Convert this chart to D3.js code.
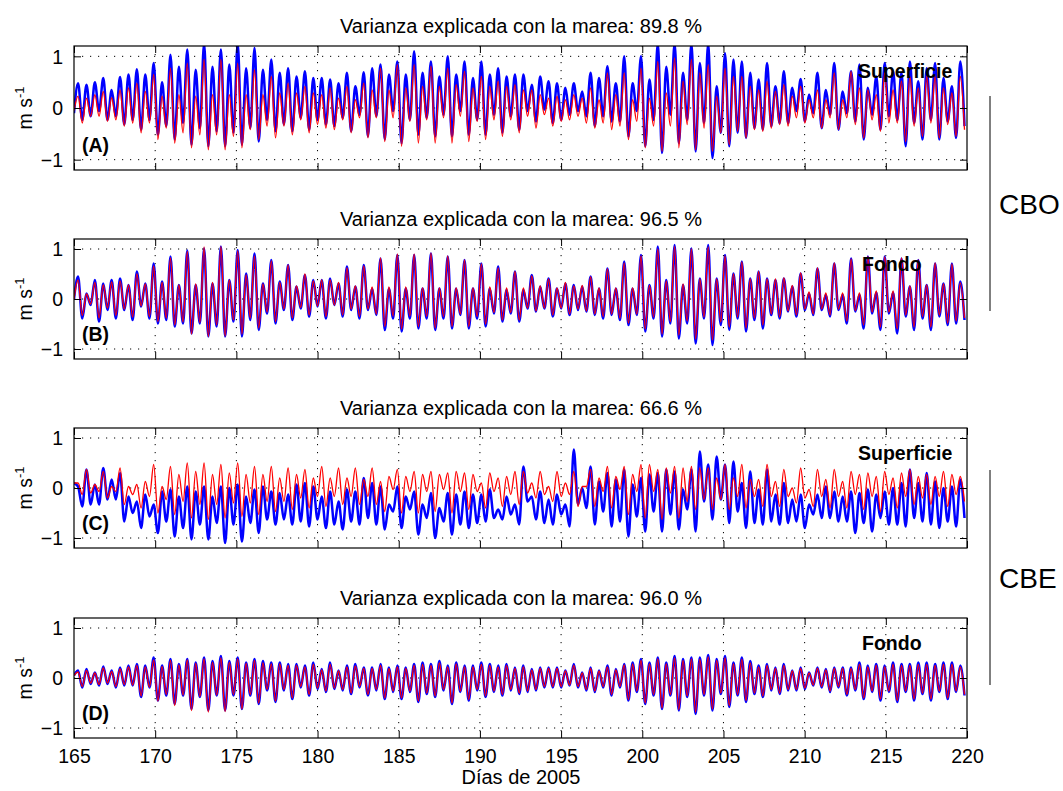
<!DOCTYPE html>
<html><head><meta charset="utf-8">
<script src="https://cdn.jsdelivr.net/npm/d3@7"></script>
<style>body{margin:0;background:#fff} text{font-family:"Liberation Sans",Arial,Helvetica,sans-serif;fill:#000}</style>
</head><body><svg id="c" width="1063" height="791"></svg>
<script>
// ---------------- DATA ----------------
const xTicks = [165,170,175,180,185,190,195,200,205,210,215,220];
const yTicks = [-1,0,1];
const panelTitles = ["Varianza explicada con la marea: 89.8 %","Varianza explicada con la marea: 96.5 %","Varianza explicada con la marea: 66.6 %","Varianza explicada con la marea: 96.0 %"];
const panelTags = ["(A)","(B)","(C)","(D)"];
const panelLayers = ["Superficie","Fondo","Superficie","Fondo"];
const groups = ["CBO","CBE"];
// time grid of the extremes (days of 2005): first crest and semidiurnal period
const firstCrestDay = 165.25;
const tidalPeriod = 0.5175;
// starting value at day 165 for each series [blue, red] per panel
const startBlue = [-0.1, 0.0, 0.1, 0.05];
const startRed = [-0.05, 0.0, 0.1, 0.05];

// Panel A (CBO superficie) - observed (blue) and tidal (red): crest and trough values
const aBluePk = [0.48,0.45,0.5,0.58,0.35,0.6,0.65,0.75,0.65,0.87,0.5,1.03,0.8,1.13,0.74,1.25,0.8,1.13,0.84,1.25,0.77,1.16,0.74,0.94,0.68,0.77,0.61,0.71,0.58,0.58,0.55,0.48,0.68,0.42,0.69,0.77,
 0.84,0.65,0.9,0.65,1.1,0.68,0.9,0.61,1.0,0.65,0.9,0.58,0.9,0.65,0.77,0.61,0.65,0.65,0.45,0.61,0.52,0.48,0.39,0.48,0.32,0.68,0.58,0.81,0.48,1.0,0.48,1.0,0.55,1.25,0.8,1.25,
 0.68,1.25,0.87,1.25,0.42,1.06,0.94,0.9,0.68,0.55,0.87,0.42,0.71,0.39,0.56,0.26,0.68,0.35,0.87,0.32,0.71,0.84,0.39,0.61,0.87,0.71,0.68,0.9,0.52,0.77,0.87,0.58,0.42,0.9];
const aBlueTr = [-0.23,-0.16,-0.06,-0.23,-0.16,-0.32,-0.23,-0.42,-0.23,-0.52,-0.35,-0.61,-0.29,-0.71,-0.39,-0.74,-0.45,-0.74,-0.48,-0.71,-0.39,-0.65,-0.23,-0.45,-0.32,-0.45,-0.19,-0.42,-0.23,-0.32,-0.35,-0.19,-0.45,-0.13,-0.55,-0.16,
 -0.61,-0.06,-0.68,-0.23,-0.52,-0.19,-0.55,-0.13,-0.55,-0.06,-0.52,-0.23,-0.52,-0.13,-0.48,-0.16,-0.42,-0.06,-0.26,-0.03,-0.29,-0.23,-0.13,-0.06,-0.16,-0.35,-0.16,-0.26,-0.26,-0.55,-0.06,-0.74,-0.23,-0.87,-0.13,-0.68,
 -0.23,-0.84,-0.29,-0.97,-0.48,-0.74,-0.48,-0.58,-0.39,-0.42,-0.35,-0.29,-0.29,-0.06,-0.26,-0.1,-0.39,-0.13,-0.42,-0.1,-0.26,-0.61,-0.13,-0.42,-0.16,-0.23,-0.74,-0.29,-0.61,-0.23,-0.61,-0.26,-0.58,-0.35];
const aRedPk = [0.23,0.19,0.26,0.32,0.2,0.35,0.39,0.48,0.32,0.65,0.23,0.77,0.26,0.87,0.23,0.94,0.26,0.94,0.26,0.87,0.26,0.74,0.26,0.61,0.29,0.48,0.29,0.42,0.29,0.26,0.39,0.19,0.42,0.16,0.48,0.35,
 0.77,0.35,0.84,0.39,0.84,0.42,0.81,0.42,0.77,0.45,0.71,0.39,0.61,0.42,0.52,0.42,0.45,0.35,0.35,0.26,0.19,0.23,0.16,0.26,0.19,0.39,0.16,0.68,0.26,0.68,0.16,0.77,0.19,0.9,0.29,0.97,
 0.52,0.94,0.68,0.84,0.23,0.77,0.61,0.61,0.42,0.35,0.52,0.32,0.45,0.23,0.42,0.16,0.35,0.16,0.68,0.16,0.71,0.39,0.35,0.26,0.68,0.35,0.52,0.61,0.39,0.61,0.61,0.39,0.29,0.61];
const aRedTr = [-0.29,-0.16,-0.16,-0.26,-0.23,-0.35,-0.29,-0.48,-0.29,-0.61,-0.39,-0.68,-0.48,-0.77,-0.52,-0.81,-0.52,-0.81,-0.55,-0.77,-0.42,-0.61,-0.35,-0.58,-0.35,-0.52,-0.23,-0.48,-0.32,-0.39,-0.42,-0.23,-0.48,-0.19,-0.58,-0.19,
 -0.65,-0.19,-0.74,-0.26,-0.68,-0.23,-0.68,-0.19,-0.68,-0.16,-0.65,-0.26,-0.61,-0.23,-0.55,-0.23,-0.48,-0.16,-0.39,-0.13,-0.35,-0.26,-0.23,-0.16,-0.29,-0.39,-0.29,-0.42,-0.35,-0.61,-0.26,-0.77,-0.35,-0.84,-0.35,-0.77,
 -0.32,-0.81,-0.39,-0.84,-0.48,-0.71,-0.45,-0.58,-0.42,-0.45,-0.39,-0.32,-0.35,-0.19,-0.29,-0.19,-0.39,-0.19,-0.42,-0.19,-0.32,-0.58,-0.23,-0.45,-0.29,-0.29,-0.65,-0.35,-0.55,-0.29,-0.58,-0.32,-0.55,-0.42];

// Panel B (CBO fondo)
const bBluePk = [0.45,0.11,0.38,0.31,0.38,0.41,0.28,0.55,0.31,0.71,0.35,0.85,0.28,0.97,0.28,1.01,0.31,1.05,0.38,0.98,0.51,0.91,0.31,0.78,0.35,0.68,0.25,0.48,0.38,0.38,0.41,0.31,0.65,0.25,0.68,0.21,
 0.81,0.21,0.88,0.21,0.88,0.21,0.91,0.21,0.85,0.21,0.78,0.21,0.71,0.21,0.65,0.18,0.55,0.18,0.48,0.25,0.41,0.21,0.31,0.28,0.25,0.45,0.21,0.61,0.21,0.75,0.21,0.88,0.28,1.05,0.38,1.08,
 0.28,1.01,0.41,1.08,0.41,0.88,0.51,0.75,0.41,0.55,0.41,0.38,0.41,0.25,0.51,0.11,0.61,0.08,0.71,0.08,0.81,0.08,0.85,0.13,0.85,0.13,0.81,0.25,0.78,0.28,0.71,0.31,0.71,0.35];
const bBlueTr = [-0.39,-0.12,-0.45,-0.22,-0.39,-0.22,-0.42,-0.15,-0.39,-0.49,-0.42,-0.55,-0.49,-0.69,-0.49,-0.75,-0.55,-0.75,-0.45,-0.75,-0.42,-0.62,-0.29,-0.49,-0.22,-0.42,-0.19,-0.35,-0.15,-0.39,-0.12,-0.35,-0.22,-0.39,-0.22,-0.32,
 -0.62,-0.39,-0.65,-0.39,-0.59,-0.39,-0.62,-0.39,-0.59,-0.32,-0.59,-0.39,-0.55,-0.29,-0.45,-0.29,-0.45,-0.19,-0.25,-0.19,-0.35,-0.19,-0.32,-0.22,-0.25,-0.32,-0.39,-0.32,-0.42,-0.52,-0.32,-0.65,-0.39,-0.75,-0.49,-0.79,
 -0.49,-0.89,-0.39,-0.92,-0.52,-0.62,-0.39,-0.65,-0.42,-0.59,-0.32,-0.39,-0.25,-0.35,-0.22,-0.32,-0.22,-0.35,-0.22,-0.49,-0.25,-0.59,-0.29,-0.62,-0.29,-0.69,-0.35,-0.62,-0.39,-0.62,-0.35,-0.52,-0.49,-0.42];
const bRedPk = [0.38,0.1,0.33,0.28,0.34,0.36,0.28,0.5,0.3,0.66,0.33,0.82,0.28,0.95,0.3,1.04,0.33,1.05,0.38,0.96,0.48,0.86,0.3,0.76,0.33,0.68,0.26,0.5,0.36,0.38,0.38,0.33,0.62,0.26,0.66,0.24,
 0.82,0.24,0.9,0.24,0.9,0.22,0.92,0.22,0.86,0.22,0.78,0.22,0.7,0.24,0.62,0.22,0.55,0.22,0.46,0.26,0.4,0.22,0.33,0.26,0.27,0.44,0.22,0.6,0.22,0.72,0.22,0.86,0.27,1.0,0.36,1.05,
 0.3,1.0,0.4,1.04,0.4,0.86,0.5,0.74,0.4,0.55,0.4,0.4,0.42,0.27,0.52,0.14,0.62,0.12,0.72,0.12,0.8,0.12,0.85,0.16,0.84,0.16,0.82,0.26,0.78,0.28,0.72,0.3,0.7,0.32];
const bRedTr = [-0.33,-0.1,-0.38,-0.18,-0.33,-0.2,-0.36,-0.14,-0.35,-0.45,-0.38,-0.52,-0.46,-0.7,-0.47,-0.75,-0.52,-0.74,-0.42,-0.7,-0.38,-0.58,-0.26,-0.45,-0.2,-0.38,-0.17,-0.32,-0.14,-0.35,-0.12,-0.32,-0.2,-0.35,-0.2,-0.3,
 -0.55,-0.34,-0.6,-0.34,-0.55,-0.35,-0.58,-0.35,-0.55,-0.3,-0.55,-0.35,-0.5,-0.27,-0.42,-0.27,-0.42,-0.18,-0.24,-0.18,-0.32,-0.18,-0.3,-0.2,-0.24,-0.3,-0.35,-0.3,-0.38,-0.48,-0.3,-0.6,-0.36,-0.7,-0.45,-0.72,
 -0.44,-0.8,-0.36,-0.82,-0.46,-0.56,-0.36,-0.58,-0.38,-0.52,-0.3,-0.36,-0.24,-0.32,-0.2,-0.3,-0.2,-0.32,-0.2,-0.44,-0.23,-0.52,-0.26,-0.56,-0.26,-0.6,-0.32,-0.56,-0.35,-0.56,-0.32,-0.48,-0.44,-0.38];

// Panel C (CBE superficie)
const cBluePk = [0.03,0.37,0.07,0.4,0.17,0.3,-0.17,-0.27,-0.13,-0.33,-0.07,-0.03,-0.17,0.03,-0.07,0.03,-0.17,0.03,0,0.07,-0.17,-0.03,0.03,-0.07,-0.1,-0.13,0.07,0.1,0.03,-0.17,-0.07,-0.27,-0.03,-0.07,0.2,0.1,
 0.03,-0.33,0.03,-0.17,-0.07,-0.33,-0.1,-0.4,-0.1,-0.13,-0.07,-0.13,-0.13,-0.03,-0.43,-0.17,-0.33,0.43,-0.17,-0.07,-0.23,-0.13,-0.33,0.77,0,0.43,0.13,0.3,0.17,0.37,0.07,0.2,0.27,0.3,0.37,0.33,
 -0.03,0.37,0.73,0.47,0.63,0.47,0.53,0.1,0.33,-0.03,0.37,-0.13,0.1,-0.23,-0.13,-0.33,-0.13,0.03,-0.07,-0.17,-0.07,-0.1,-0.03,-0.13,-0.07,0,0.1,0.37,0.1,0.3,0.13,0,0.03,0.17];
const cBlueTr = [-0.37,-0.33,-0.33,-0.23,-0.23,-0.67,-0.5,-0.8,-0.57,-0.9,-0.67,-0.97,-0.8,-1.03,-0.73,-1.03,-0.7,-1.1,-0.73,-1.07,-0.7,-0.9,-0.63,-0.73,-0.63,-0.73,-0.67,-0.77,-0.63,-0.8,-0.73,-0.83,-0.67,-0.73,-0.6,-0.73,
 -0.83,-0.47,-0.8,-0.43,-0.93,-0.6,-1.0,-0.67,-0.93,-0.73,-0.8,-0.7,-0.67,-0.6,-0.63,-0.53,-0.73,-0.27,-0.63,-0.7,-0.73,-0.53,-0.77,-0.33,-0.4,-0.73,-0.47,-0.77,-0.67,-0.97,-0.57,-0.87,-0.47,-0.87,-0.53,-0.83,
 -0.43,-0.87,-0.27,-0.63,-0.23,-0.7,-0.47,-0.8,-0.7,-0.73,-0.67,-0.73,-0.7,-0.67,-0.8,-0.53,-0.6,-0.6,-0.67,-0.67,-0.9,-0.7,-0.87,-0.6,-0.73,-0.73,-0.77,-0.6,-0.67,-0.73,-0.8,-0.67,-0.77,-0.6];
const cRedPk = [0.1,0.37,0.07,0.33,0.03,0.4,0.03,0.07,0.13,0.47,0.03,0.43,0.27,0.5,0.33,0.5,0.27,0.47,0.3,0.5,0.27,0.43,0.27,0.43,0.2,0.4,0.27,0.37,0.2,0.43,0.2,0.4,0.2,0.4,0.17,0.4,
 0.13,0.23,0.37,0.23,0.33,0.27,0.33,0.27,0.3,0.33,0.3,0.27,0.1,0.3,0.2,0.23,0.33,0.33,0.1,0.33,0.03,0.33,0.1,0.33,0.03,0.37,0.2,0.43,0.23,0.43,0.27,0.47,0.47,0.37,0.4,0.43,
 0.4,0.43,0.4,0.4,0.2,0.47,0.2,0.47,0.17,0.17,0.47,0.13,0.37,0,0.4,-0.03,0.37,0.17,0.37,0.13,0.33,0.27,0.3,0.23,0.33,0.2,0.3,0.37,0.23,0.27,0.23,0.33,0.27,0.23];
const cRedTr = [-0.13,-0.1,-0.07,-0.2,-0.07,-0.33,-0.13,-0.4,-0.17,-0.5,-0.23,-0.53,-0.27,-0.6,-0.33,-0.63,-0.33,-0.6,-0.3,-0.57,-0.3,-0.53,-0.27,-0.47,-0.27,-0.43,-0.2,-0.4,-0.17,-0.37,-0.17,-0.33,-0.17,-0.33,-0.17,-0.33,
 -0.47,-0.03,-0.5,-0.07,-0.5,-0.07,-0.47,-0.03,-0.5,-0.07,-0.43,-0.07,-0.4,-0.07,-0.37,-0.13,-0.33,-0.1,-0.2,-0.13,-0.27,-0.17,-0.13,-0.37,0.03,-0.37,-0.07,-0.4,-0.03,-0.53,-0.07,-0.6,-0.07,-0.63,-0.1,-0.6,
 -0.27,-0.43,-0.23,-0.43,-0.23,-0.43,-0.17,-0.4,-0.17,-0.37,-0.17,-0.37,-0.17,-0.3,-0.2,-0.37,-0.17,-0.4,-0.17,-0.4,-0.13,-0.43,-0.17,-0.47,-0.13,-0.4,-0.17,-0.33,-0.2,-0.33,-0.17,-0.37,-0.13,-0.27];

// Panel D (CBE fondo)
const dBluePk = [0.15,0.18,0.11,0.23,0.15,0.21,0.25,0.28,0.25,0.41,0.25,0.38,0.28,0.38,0.31,0.41,0.34,0.44,0.34,0.41,0.31,0.38,0.34,0.31,0.31,0.28,0.28,0.25,0.31,0.18,0.31,0.15,0.25,0.28,0.21,0.21,0.28,0.21,0.25,0.21,0.28,0.31,0.28,0.34,0.25,0.31,0.25,0.25,0.31,0.28,0.25,0.28,0.21,0.25,
 0.18,0.21,0.21,0.21,0.15,0.28,0.11,0.21,0.15,0.25,0.18,0.28,0.31,0.38,0.31,0.41,0.31,0.44,0.38,0.41,0.41,0.46,0.38,0.44,0.31,0.41,0.34,0.25,0.28,0.21,0.28,0.15,0.21,0.11,0.21,0.18,0.21,0.21,0.21,0.31,0.25,0.28,0.25,0.31,0.28,0.28,0.31,0.31,0.28,0.31,0.31,0.25];
const dBlueTr = [-0.19,-0.12,-0.15,-0.12,-0.19,-0.15,-0.15,-0.38,-0.19,-0.45,-0.35,-0.52,-0.35,-0.62,-0.38,-0.65,-0.35,-0.65,-0.35,-0.62,-0.35,-0.52,-0.25,-0.48,-0.25,-0.42,-0.19,-0.35,-0.22,-0.28,-0.22,-0.25,-0.32,-0.19,-0.35,-0.25,-0.42,-0.28,-0.42,-0.28,-0.48,-0.32,-0.38,-0.25,-0.52,-0.28,-0.45,-0.25,-0.38,-0.28,-0.35,-0.25,-0.32,-0.28,
 -0.25,-0.19,-0.19,-0.19,-0.15,-0.19,-0.25,-0.28,-0.19,-0.35,-0.19,-0.45,-0.28,-0.52,-0.35,-0.62,-0.35,-0.65,-0.38,-0.72,-0.35,-0.65,-0.32,-0.58,-0.35,-0.48,-0.32,-0.38,-0.25,-0.32,-0.25,-0.25,-0.22,-0.15,-0.19,-0.28,-0.19,-0.35,-0.25,-0.42,-0.28,-0.45,-0.28,-0.48,-0.28,-0.45,-0.32,-0.45,-0.28,-0.42,-0.28,-0.35];
const dRedPk = [0.12,0.15,0.1,0.2,0.13,0.18,0.22,0.25,0.22,0.36,0.23,0.35,0.26,0.36,0.29,0.38,0.31,0.4,0.31,0.38,0.29,0.35,0.3,0.28,0.28,0.25,0.25,0.22,0.27,0.16,0.27,0.14,0.22,0.24,0.19,0.19,0.25,0.19,0.22,0.19,0.25,0.27,0.25,0.3,0.22,0.28,0.22,0.22,0.27,0.25,0.22,0.25,0.19,0.22,
 0.16,0.19,0.19,0.19,0.14,0.25,0.1,0.19,0.14,0.22,0.16,0.26,0.28,0.35,0.28,0.38,0.28,0.4,0.35,0.38,0.37,0.42,0.35,0.4,0.28,0.37,0.3,0.22,0.25,0.19,0.25,0.14,0.19,0.1,0.19,0.16,0.19,0.19,0.19,0.27,0.22,0.25,0.22,0.27,0.25,0.25,0.27,0.27,0.25,0.27,0.27,0.22];
const dRedTr = [-0.17,-0.1,-0.13,-0.1,-0.17,-0.13,-0.14,-0.36,-0.18,-0.46,-0.33,-0.55,-0.34,-0.65,-0.37,-0.68,-0.34,-0.67,-0.33,-0.62,-0.33,-0.5,-0.23,-0.46,-0.23,-0.4,-0.17,-0.33,-0.2,-0.26,-0.2,-0.23,-0.3,-0.17,-0.33,-0.23,-0.4,-0.26,-0.4,-0.26,-0.46,-0.3,-0.36,-0.23,-0.5,-0.26,-0.43,-0.23,-0.36,-0.26,-0.33,-0.23,-0.3,-0.26,
 -0.23,-0.17,-0.17,-0.17,-0.14,-0.17,-0.23,-0.26,-0.17,-0.33,-0.17,-0.43,-0.26,-0.5,-0.33,-0.6,-0.33,-0.63,-0.36,-0.68,-0.33,-0.62,-0.3,-0.55,-0.33,-0.45,-0.3,-0.36,-0.23,-0.3,-0.23,-0.23,-0.2,-0.14,-0.17,-0.26,-0.17,-0.33,-0.23,-0.4,-0.26,-0.42,-0.26,-0.45,-0.26,-0.42,-0.3,-0.42,-0.26,-0.4,-0.26,-0.33];

// ---------------- DRAW ----------------
const svg = d3.select("#c");
const W = 1063, H = 791;
svg.append("rect").attr("width", W).attr("height", H).attr("fill", "#fff");
const plotLeft = 74, plotRight = 967;
const panelBox = [[46,170],[239,359],[428,548],[618,738]];
const x = d3.scaleLinear().domain([165,220]).range([plotLeft, plotRight]);
const seriesBlue = [[aBluePk,aBlueTr],[bBluePk,bBlueTr],[cBluePk,cBlueTr],[dBluePk,dBlueTr]];
const seriesRed = [[aRedPk,aRedTr],[bRedPk,bRedTr],[cRedPk,cRedTr],[dRedPk,dRedTr]];

function toPoints(pk, tr, start) {
  const pts = [[165, start]];
  pk.forEach((v, k) => {
    pts.push([firstCrestDay + k * tidalPeriod, v]);
    if (k < tr.length) pts.push([firstCrestDay + (k + 0.5) * tidalPeriod, tr[k]]);
  });
  return pts;
}

const FONT = '"Liberation Sans",Arial,Helvetica,sans-serif';
const defs = svg.append("defs");

panelBox.forEach(([top, bot], i) => {
  const y = d3.scaleLinear().domain([-1.2, 1.2]).range([bot, top]);
  const g = svg.append("g");
  defs.append("clipPath").attr("id", "clip" + i).append("rect")
    .attr("x", plotLeft).attr("y", top).attr("width", plotRight - plotLeft).attr("height", bot - top);

  // grid (dotted)
  const grid = g.append("g").attr("stroke", "#000").attr("stroke-width", 1).attr("stroke-dasharray", "1.2,6.8");
  xTicks.slice(1, -1).forEach(t => grid.append("line").attr("x1", x(t)).attr("x2", x(t)).attr("y1", top).attr("y2", bot));
  yTicks.forEach(t => grid.append("line").attr("x1", plotLeft).attr("x2", plotRight).attr("y1", y(t)).attr("y2", y(t)));

  // lines
  const line = d3.line().x(d => x(d[0])).y(d => y(d[1])).curve(d3.curveMonotoneX);
  const lg = g.append("g").attr("clip-path", `url(#clip${i})`);
  lg.append("path").datum(toPoints(seriesBlue[i][0], seriesBlue[i][1], startBlue[i]))
    .attr("d", line).attr("fill", "none").attr("stroke", "#0000ff").attr("stroke-width", 2.5).attr("stroke-linejoin", "round");
  lg.append("path").datum(toPoints(seriesRed[i][0], seriesRed[i][1], startRed[i]))
    .attr("d", line).attr("fill", "none").attr("stroke", "#ff0000").attr("stroke-width", 1.3).attr("stroke-linejoin", "round");

  // axes with inward ticks on all sides
  const tickLen = 7;
  const axB = d3.axisBottom(x).tickValues(xTicks).tickSizeInner(-tickLen).tickSizeOuter(0).tickFormat(i === 3 ? d3.format("d") : () => "");
  const axT = d3.axisTop(x).tickValues(xTicks).tickSizeInner(-tickLen).tickSizeOuter(0).tickFormat(() => "");
  const axL = d3.axisLeft(y).tickValues(yTicks).tickSizeInner(-tickLen).tickSizeOuter(0).tickFormat(d3.format("d"));
  const axR = d3.axisRight(y).tickValues(yTicks).tickSizeInner(-tickLen).tickSizeOuter(0).tickFormat(() => "");
  const gb = g.append("g").attr("transform", `translate(0,${bot})`).call(axB);
  const gt = g.append("g").attr("transform", `translate(0,${top})`).call(axT);
  const gl = g.append("g").attr("transform", `translate(${plotLeft},0)`).call(axL);
  const gr = g.append("g").attr("transform", `translate(${plotRight},0)`).call(axR);
  [gb, gt, gl, gr].forEach(a => {
    a.select(".domain").remove();
    a.selectAll(".tick line").attr("stroke", "#000").attr("stroke-width", 1);
    a.selectAll("text").attr("font-family", FONT).attr("font-size", 19.5).attr("fill", "#000");
  });
  gl.selectAll(".tick text").attr("x", -11).attr("dy", "0.35em");
  gb.selectAll(".tick text").attr("y", 11).attr("dy", "0.71em");
  g.append("rect").attr("x", plotLeft).attr("y", top).attr("width", plotRight - plotLeft).attr("height", bot - top)
    .attr("fill", "none").attr("stroke", "#000").attr("stroke-width", 1.2);

  // title
  svg.append("text").attr("x", 521).attr("y", top - 13).attr("text-anchor", "middle")
    .attr("font-size", 20).text(panelTitles[i]);
  // y label
  const yl = svg.append("text").attr("transform", `translate(32,${(top + bot) / 2}) rotate(-90)`)
    .attr("text-anchor", "middle").attr("font-size", 19.5);
  yl.append("tspan").text("m s");
  yl.append("tspan").attr("font-size", 13).attr("dy", -8).text("-1");
  // tags
  svg.append("text").attr("x", 82).attr("y", bot - 18).attr("font-size", 19.5).attr("font-weight", "bold").text(panelTags[i]);
  svg.append("text").attr("x", i % 2 === 0 ? 858 : 862).attr("y", top + 32).attr("font-size", 19.5).attr("font-weight", "bold").text(panelLayers[i]);
});

// x label
svg.append("text").attr("x", 521).attr("y", 784).attr("text-anchor", "middle").attr("font-size", 20).text("Días de 2005");

// group brackets
const groupSpan = [[96, 311], [470, 685]];
groups.forEach((name, i) => {
  svg.append("line").attr("x1", 990).attr("x2", 990).attr("y1", groupSpan[i][0]).attr("y2", groupSpan[i][1])
    .attr("stroke", "#000").attr("stroke-width", 1);
  svg.append("text").attr("x", 999).attr("y", (groupSpan[i][0] + groupSpan[i][1]) / 2 + 10)
    .attr("font-size", 28).text(name);
});
</script></body></html>
